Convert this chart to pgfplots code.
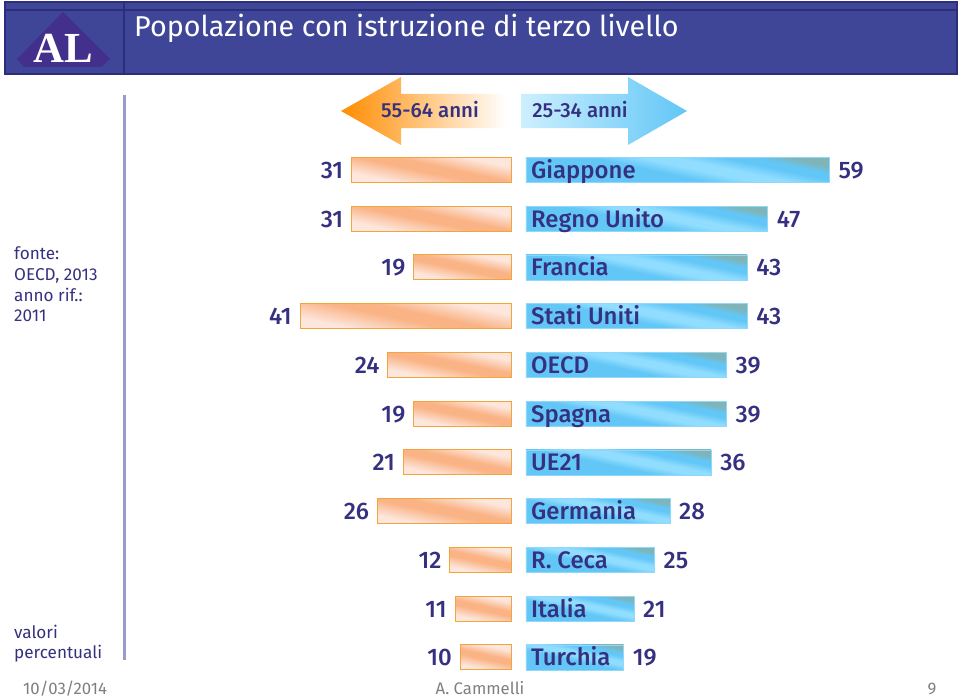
\documentclass[border=0pt]{standalone}
\usepackage{fontspec}
\setmainfont{Fira Sans}
\newfontfamily\medfont{Fira Sans Medium}
\newfontfamily\serifb{Liberation Serif Bold}
\usepackage{pgfplots}
\pgfplotsset{compat=1.18}

\definecolor{headbg}{HTML}{3F4698}
\definecolor{headdk}{HTML}{2C2E7C}
\definecolor{logo}{HTML}{43308C}
\definecolor{ink}{HTML}{35307F}
\definecolor{rule}{HTML}{9A9BCB}
\definecolor{foot}{HTML}{7F7F7F}
\definecolor{peach}{HTML}{FAB385}
\definecolor{peachL}{HTML}{FDE6DC}
\definecolor{edge}{HTML}{F2A53C}

% diagonal gradients of the bars
\pgfdeclarehorizontalshading{orangebar}{100bp}{
  color(0bp)=(peachL); color(30bp)=(peachL); color(47bp)=(peach); color(55bp)=(peach);
  color(70bp)=(peachL); color(100bp)=(peachL)}
\definecolor{blueA}{HTML}{62C6F6}
\definecolor{blueB}{HTML}{90DDFF}
\definecolor{blueC}{HTML}{7FB5B8}
\pgfdeclarehorizontalshading{bluebar}{100bp}{
  color(0bp)=(blueA); color(46bp)=(blueA); color(53bp)=(blueB);
  color(58bp)=(blueB); color(65bp)=(blueA); color(69bp)=(blueA); color(74bp)=(blueC); color(100bp)=(blueC)}

\pgfplotsset{
  frame/.style={scale only axis, width=960bp, height=698bp, hide axis, clip=false,
    ymin=-3.487, ymax=10.831, y dir=reverse},
  oldbar/.style={xbar, bar width=25bp, bar shift=0pt, draw=edge, line width=1bp,
    shade, shading=orangebar, shading angle=78,
    nodes near coords, point meta=x,
    nodes near coords style={font=\fontsize{24}{24}\selectfont\medfont, text=ink, inner sep=0pt,
      anchor=east, text height=17bp, text depth=0pt, xshift=-8bp},
    /pgf/number format/assume math mode=true},
  newbar/.style={xbar, bar width=25bp, bar shift=0pt, draw=blueA!70!white, line width=.5bp,
    shade, shading=bluebar, shading angle=78,
    nodes near coords, point meta=x,
    nodes near coords style={font=\fontsize{24}{24}\selectfont\medfont, text=ink, inner sep=0pt,
      anchor=west, text height=17bp, text depth=0pt, xshift=9bp},
    /pgf/number format/assume math mode=true},
}

\begin{document}
\begin{tikzpicture}
\path[use as bounding box] (0,0) rectangle (960bp,698bp);

% header, arrows and side text, in pixel coordinates
\begin{axis}[scale only axis, width=960bp, height=698bp, hide axis, clip=false,
  xmin=0, xmax=960, ymin=0, ymax=698, y dir=reverse]
  \fill[headbg, draw=headdk, line width=1.5bp] (axis cs:5,2) rectangle (axis cs:957,74);
  \draw[headdk, line width=2bp] (axis cs:5,10) -- (axis cs:957,10);
  \draw[headdk, line width=2bp] (axis cs:124,2) -- (axis cs:124,74);
  \fill[logo] (axis cs:63,12) -- (axis cs:110,59) -- (axis cs:102,67) -- (axis cs:24,67) -- (axis cs:17,59) -- cycle;
  \node[white, inner sep=0pt, anchor=base] at (axis cs:63,63) {\fontsize{43}{43}\selectfont\serifb AL};
  \node[white, anchor=base west, inner sep=0pt] at (axis cs:134,37) {\fontsize{28.8}{29}\selectfont Popolazione con istruzione di terzo livello};

  \shade[left color=orange!90!yellow, middle color=peach!70!white, right color=white]
    (axis cs:341,111) -- (axis cs:401,77) -- (axis cs:401,94) -- (axis cs:506,94) -- (axis cs:506,128) -- (axis cs:401,128) -- (axis cs:401,145) -- cycle;
  \shade[left color=blueB!45!white, right color=blueA]
    (axis cs:687,111) -- (axis cs:628,77) -- (axis cs:628,94) -- (axis cs:521,94) -- (axis cs:521,128) -- (axis cs:628,128) -- (axis cs:628,145) -- cycle;
  \node[ink, inner sep=0pt, anchor=base] at (axis cs:430,118) {\fontsize{20.5}{21}\selectfont\medfont 55-64 anni};
  \node[ink, inner sep=0pt, anchor=base] at (axis cs:580,118) {\fontsize{20.5}{21}\selectfont\medfont 25-34 anni};

  \draw[rule, line width=3bp] (axis cs:124,95) -- (axis cs:124,660);
  \foreach \t/\y in {fonte:/259, {OECD, 2013}/280, anno rif.:/301, 2011/321, valori/638, percentuali/658}{
    \edef\temp{\noexpand\node[ink, anchor=base west, inner sep=0pt] at (axis cs:14,\y) {\noexpand\fontsize{17.2}{18}\noexpand\selectfont \t};}\temp
  }
  \node[foot, anchor=base west, inner sep=0pt] at (axis cs:23,694.5) {\fontsize{16.8}{17}\selectfont 10/03/2014};
  \node[foot, anchor=base, inner sep=0pt] at (axis cs:480,694.5) {\fontsize{16.8}{17}\selectfont A. Cammelli};
  \node[foot, anchor=base, inner sep=0pt] at (axis cs:932,694.5) {\fontsize{16.8}{17}\selectfont 9};
\end{axis}

% left bars: 55-64 anni, zero at pixel 512
\begin{axis}[frame, x dir=reverse, xmin=-86.65, xmax=99.03]
  \addplot[oldbar] coordinates {(31,0)};
  \addplot[oldbar] coordinates {(31,1)};
  \addplot[oldbar] coordinates {(19,2)};
  \addplot[oldbar] coordinates {(41,3)};
  \addplot[oldbar] coordinates {(24,4)};
  \addplot[oldbar] coordinates {(19,5)};
  \addplot[oldbar] coordinates {(21,6)};
  \addplot[oldbar] coordinates {(26,7)};
  \addplot[oldbar] coordinates {(12,8)};
  \addplot[oldbar] coordinates {(11,9)};
  \addplot[oldbar] coordinates {(10,10)};
\end{axis}

% right bars: 25-34 anni, zero at pixel 526
\begin{axis}[frame, xmin=-102.33, xmax=84.44]
  \addplot[newbar] coordinates {(59,0)};
  \addplot[newbar] coordinates {(47,1)};
  \addplot[newbar] coordinates {(43,2)};
  \addplot[newbar] coordinates {(43,3)};
  \addplot[newbar] coordinates {(39,4)};
  \addplot[newbar] coordinates {(39,5)};
  \addplot[newbar] coordinates {(36,6)};
  \addplot[newbar] coordinates {(28,7)};
  \addplot[newbar] coordinates {(25,8)};
  \addplot[newbar] coordinates {(21,9)};
  \addplot[newbar] coordinates {(19,10)};
  % country names at the base of the bars
  \addplot[draw=none, mark=none, point meta=explicit symbolic, nodes near coords,
    nodes near coords style={anchor=west, xshift=5bp, inner sep=0pt, text=ink,
      text height=17bp, text depth=0pt, font=\fontsize{24}{24}\selectfont\medfont}]
    coordinates {(0,0) [Giappone] (0,1) [Regno Unito] (0,2) [Francia] (0,3) [Stati Uniti]
      (0,4) [OECD] (0,5) [Spagna] (0,6) [UE21] (0,7) [Germania] (0,8) [R. Ceca]
      (0,9) [Italia] (0,10) [Turchia]};
\end{axis}
\end{tikzpicture}
\end{document}
